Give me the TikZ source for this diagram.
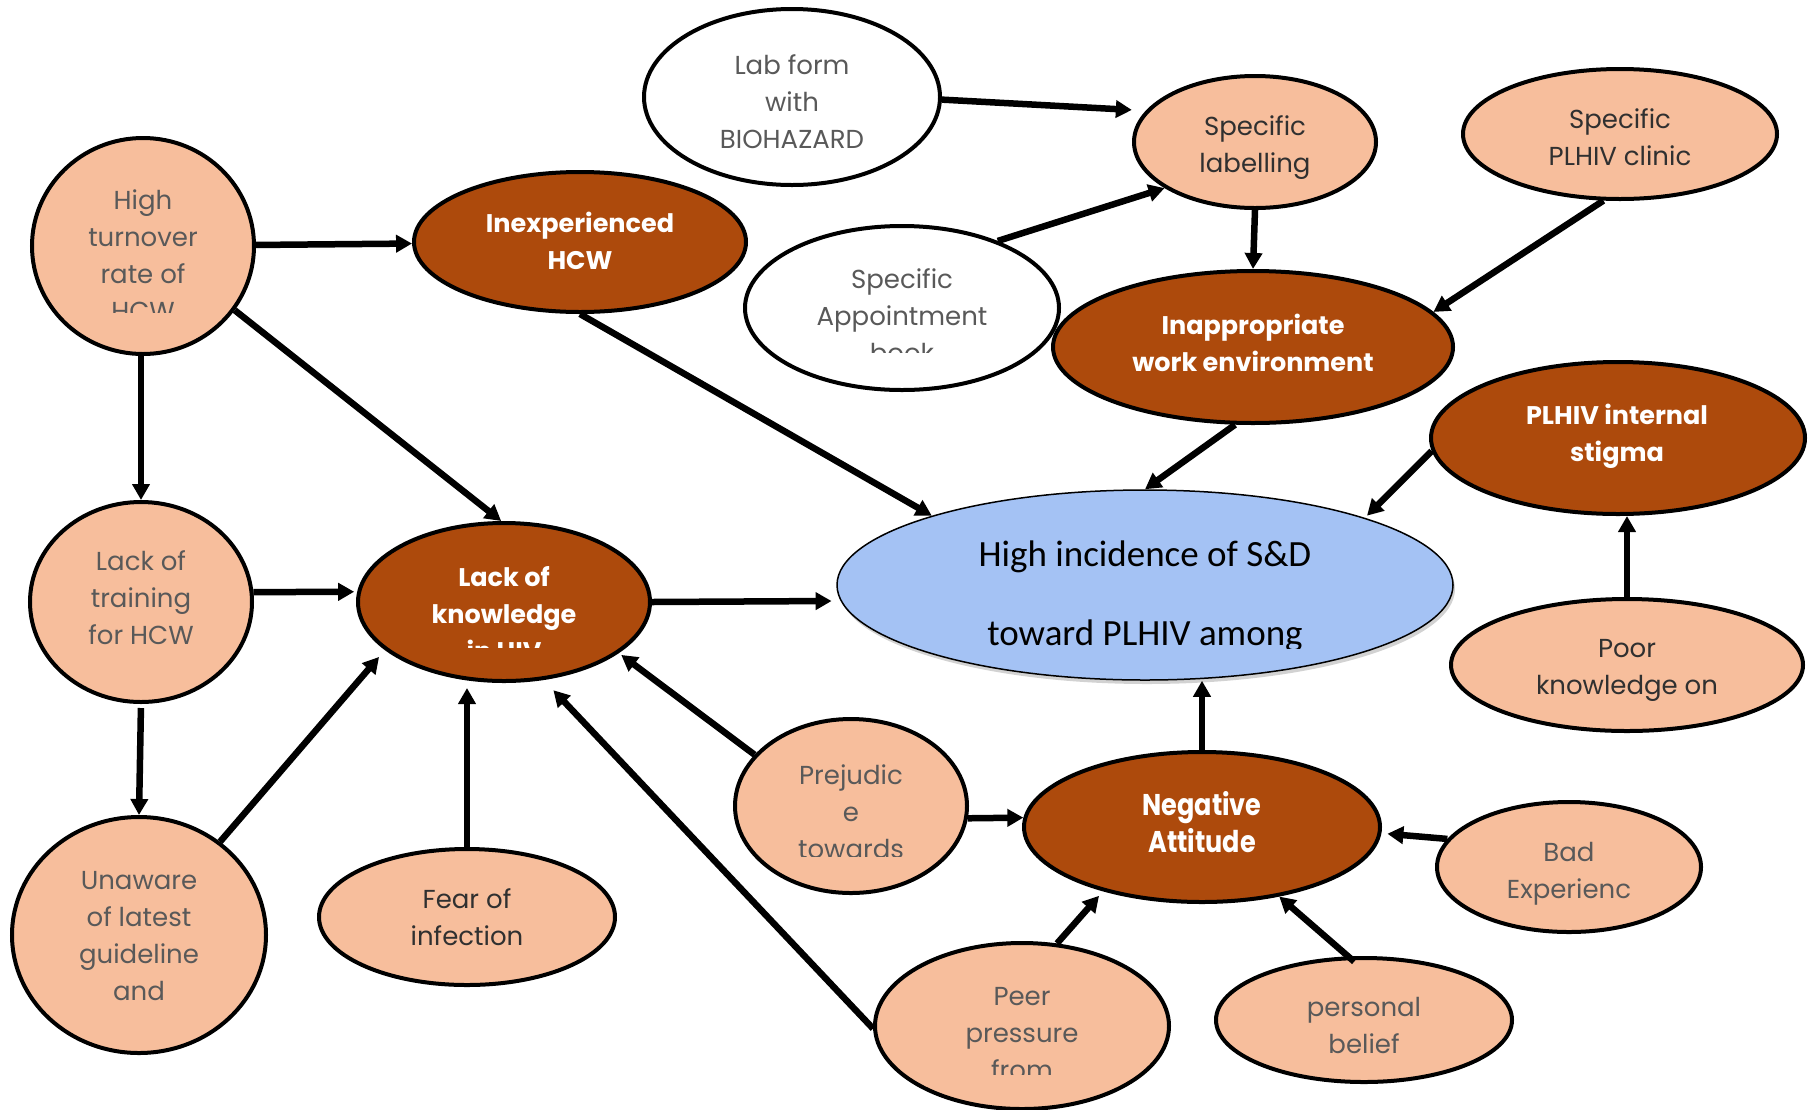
\documentclass[tikz,border=0pt]{standalone}
\usepackage{fontspec}
\setmainfont{Poppins}
\newfontfamily\calib{Carlito}
\newfontfamily\popcond{Poppins}[FakeStretch=0.85]
\usetikzlibrary{arrows.meta,shapes.geometric,shadows}
\definecolor{peach}{HTML}{F7BE9C}
\definecolor{rust}{HTML}{AD4A0C}
\definecolor{skyb}{HTML}{A4C2F4}
\definecolor{txtg}{HTML}{595959}
\definecolor{txtd}{HTML}{303030}
\tikzset{
 basebox/.style={ellipse, draw=black, line width=4pt, inner sep=0pt},
 light/.style={basebox, fill=peach},
 dark/.style={basebox, fill=rust},
 whitebox/.style={basebox, fill=white},
 ltxt/.style={align=center, inner sep=0pt, text=txtg, font=\fontsize{26}{37}\selectfont},
 dtxt/.style={ltxt, text=txtd},
 btxt/.style={align=center, inner sep=0pt, text=white, font=\fontsize{25.5}{37}\selectfont\bfseries},
 arr/.style={line width=6.5pt, -{Triangle[length=16pt,width=17pt]}},
}
\begin{document}
\begin{tikzpicture}[x=1pt,y=-1pt]
\useasboundingbox[fill=white] (0,0) rectangle (1814,1109);
% shapes
\node[light, minimum width=222pt, minimum height=216pt] (ht) at (143,246) {};
\node[dark, minimum width=332pt, minimum height=140pt] (inexp) at (580,242) {};
\node[whitebox, minimum width=296pt, minimum height=176pt] (lab) at (792,97) {};
\node[light, minimum width=242pt, minimum height=132pt] (sl) at (1255,142) {};
\node[whitebox, minimum width=314pt, minimum height=164pt] (appt) at (902,308) {};
\node[light, minimum width=314pt, minimum height=130pt] (clinic) at (1620,134) {};
\node[dark, minimum width=400pt, minimum height=152pt] (inapp) at (1253,347) {};
\node[dark, minimum width=374pt, minimum height=152pt] (pi) at (1618,438) {};
\node[ellipse, draw=black, line width=1.5pt, fill=skyb, inner sep=0pt, minimum width=616pt, minimum height=190pt,
  drop shadow={opacity=0.35, shadow xshift=2pt, shadow yshift=-4pt}] (hi) at (1145,585) {};
\node[light, minimum width=352pt, minimum height=132pt] (poor) at (1627,665) {};
\node[light, minimum width=222pt, minimum height=200pt] (lot) at (141,602) {};
\node[dark, minimum width=292pt, minimum height=158pt] (lok) at (504,602) {};
\node[light, minimum width=254pt, minimum height=236pt] (un) at (139,935) {};
\node[light, minimum width=296pt, minimum height=136pt] (fear) at (467,917) {};
\node[light, minimum width=232pt, minimum height=174pt] (prej) at (851,806) {};
\node[dark, minimum width=356pt, minimum height=150pt] (neg) at (1202,827) {};
\node[light, minimum width=264pt, minimum height=130pt] (bad) at (1569,867) {};
\node[light, minimum width=294pt, minimum height=166pt] (peer) at (1022,1026) {};
\node[light, minimum width=296pt, minimum height=124pt] (pers) at (1364,1020) {};
% texts
\begin{scope}\clip (0,100) rectangle (300,312);
\node[ltxt] (ht-t) at (143,255) {High\\turnover\\rate of\\HCW};
\end{scope}
\node[btxt] (inexp-t) at (580,240.5) {Inexperienced\\HCW};
\node[ltxt] (lab-t) at (792,102) {Lab form\\with\\BIOHAZARD};
\node[dtxt] (sl-t) at (1255,148) {Specific\\labelling};
\begin{scope}\clip (700,200) rectangle (1100,352);
\node[ltxt] (appt-t) at (902,316) {Specific\\Appointment\\book};
\end{scope}
\node[dtxt] (clinic-t) at (1620,137.5) {Specific\\PLHIV clinic};
\node[btxt] (inapp-t) at (1253,342.5) {Inappropriate\\work environment};
\node[btxt] (pi-t) at (1617,436) {PLHIV internal\\stigma};
\begin{scope}\clip (800,480) rectangle (1500,648);
\node[align=center, inner sep=0pt, text=black, font=\calib\fontsize{37}{79}\selectfont] (hi-t) at (1145,596) {High incidence of S\&D\\toward PLHIV among};
\end{scope}
\node[dtxt] (poor-t) at (1627,670.5) {Poor\\knowledge on};
\node[ltxt] (lot-t) at (141,598) {Lack of\\training\\for HCW};
\begin{scope}\clip (350,520) rectangle (660,647);
\node[btxt] (lok-t) at (504,613) {Lack of\\knowledge\\in HIV};
\end{scope}
\node[ltxt] (un-t) at (139,936.5) {Unaware\\of latest\\guideline\\and};
\node[dtxt] (fear-t) at (467,917.5) {Fear of\\infection};
\begin{scope}\clip (720,720) rectangle (980,856);
\node[ltxt] (prej-t) at (851,812) {Prejudic\\e\\towards};
\end{scope}
\node[btxt, font=\popcond\fontsize{30}{37}\selectfont\bfseries] (neg-t) at (1202,822.5) {Negative\\Attitude};
\node[ltxt] (bad-t) at (1569,874) {Bad\\Experienc};
\begin{scope}\clip (880,940) rectangle (1170,1074);
\node[ltxt] (peer-t) at (1022,1034) {Peer\\pressure\\from};
\end{scope}
\node[ltxt] (pers-t) at (1364,1025.5) {personal\\belief};
% connectors
\draw[arr] (ht) -- (inexp);
\draw[arr] (ht.-35) -- (lok.92);
\draw[arr] (lot.north |- ht.south) -- (lot.north);
\draw[arr, shorten >=3pt] (lot.5) -- (lok.176);
\draw[arr, shorten <=4pt] (lot.south) -- (un.north);
\draw[arr, shorten >=9pt] (un.49) -- (lok.202);
\draw[arr, shorten >=5pt] (fear.north) -- (fear.north |- lok.south);
\draw[arr, shorten >=14pt] (peer.181) -- (lok.-63);
\draw[arr, shorten >=3pt] (prej.152) -- (lok.-24);
\draw[arr] (prej.-6) -- (neg.177);
\draw[arr, shorten >=9pt] (lok.east) -- (hi.183);
\draw[arr] (inexp.south) -- (hi.162);
\draw[arr, shorten >=14pt] (lab.-1) -- (sl.164);
\draw[arr] (appt.35) -- (sl.207);
\draw[arr] (sl.south) -- (inapp.north);
\draw[arr] (clinic.256) -- (inapp.11);
\draw[arr] (inapp.257) -- (hi.north);
\draw[arr, shorten >=3pt] (pi.184) -- (hi.17);
\draw[arr] (poor.north) -- (poor.north |- pi.south);
\draw[arr] (neg.north) -- (neg.north |- hi.south);
\draw[arr, shorten >=6pt] (bad.167) -- (neg.-2);
\draw[arr, shorten >=6pt] (peer.67) -- (neg.213);
\draw[arr, shorten <=-8pt] (pers.104) -- (neg.-42);
\end{tikzpicture}
\end{document}
